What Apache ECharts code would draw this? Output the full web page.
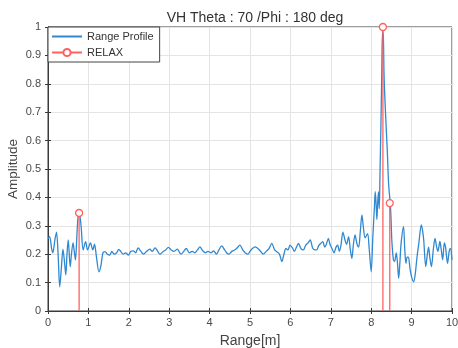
<!DOCTYPE html>
<html>
<head>
<meta charset="utf-8">
<script src="https://cdn.jsdelivr.net/npm/echarts@6/dist/echarts.min.js"></script>
<style>html,body{margin:0;padding:0;background:#fff}#c{width:458px;height:348px}</style>
</head>
<body>
<div id="c"></div>
<script>
var rangeX = [0.00,0.04,0.09,0.12,0.17,0.21,0.25,0.29,0.33,0.37,0.41,0.44,0.47,0.50,0.55,0.58,0.62,0.65,0.68,0.72,0.75,0.78,0.82,0.87,0.93,0.98,1.05,1.11,1.15,1.20,1.26,1.31,1.36,1.41,1.47,1.53,1.58,1.64,1.70,1.75,1.80,1.86,1.92,1.99,2.05,2.11,2.17,2.23,2.30,2.36,2.44,2.52,2.58,2.65,2.71,2.77,2.84,2.91,2.98,3.05,3.12,3.20,3.29,3.36,3.42,3.50,3.57,3.63,3.70,3.76,3.83,3.90,3.96,4.03,4.10,4.17,4.23,4.30,4.36,4.42,4.48,4.55,4.62,4.68,4.75,4.82,4.88,4.95,5.00,5.06,5.12,5.18,5.25,5.33,5.40,5.47,5.54,5.61,5.67,5.73,5.79,5.84,5.89,5.94,5.99,6.05,6.10,6.15,6.20,6.26,6.32,6.38,6.44,6.49,6.55,6.61,6.65,6.70,6.75,6.80,6.85,6.89,6.94,6.98,7.03,7.08,7.13,7.17,7.21,7.25,7.30,7.35,7.39,7.44,7.48,7.52,7.56,7.60,7.65,7.69,7.73,7.77,7.81,7.85,7.91,7.95,8.00,8.04,8.08,8.10,8.12,8.14,8.16,8.18,8.20,8.22,8.24,8.26,8.28,8.30,8.32,8.36,8.40,8.43,8.47,8.49,8.51,8.55,8.58,8.62,8.65,8.68,8.71,8.74,8.80,8.83,8.86,8.89,8.92,8.96,9.00,9.05,9.09,9.13,9.18,9.24,9.27,9.30,9.35,9.39,9.42,9.45,9.49,9.54,9.58,9.62,9.65,9.70,9.73,9.77,9.81,9.84,9.89,9.93,9.96,10.00];
var rangeAmp = [0.255,0.262,0.22,0.205,0.25,0.278,0.2,0.085,0.15,0.218,0.17,0.127,0.2,0.25,0.156,0.2,0.24,0.21,0.18,0.28,0.338,0.34,0.297,0.215,0.244,0.215,0.24,0.215,0.235,0.19,0.138,0.16,0.205,0.209,0.2,0.197,0.21,0.2,0.205,0.217,0.21,0.2,0.205,0.197,0.21,0.212,0.205,0.222,0.21,0.2,0.21,0.218,0.21,0.222,0.212,0.2,0.208,0.215,0.224,0.215,0.21,0.218,0.2,0.21,0.22,0.205,0.21,0.205,0.215,0.226,0.212,0.205,0.21,0.205,0.212,0.2,0.215,0.229,0.218,0.205,0.2,0.21,0.215,0.222,0.232,0.215,0.205,0.2,0.21,0.22,0.226,0.222,0.212,0.2,0.21,0.22,0.238,0.215,0.208,0.2,0.174,0.2,0.22,0.215,0.232,0.222,0.21,0.225,0.238,0.22,0.215,0.232,0.24,0.25,0.222,0.215,0.215,0.23,0.238,0.244,0.225,0.235,0.256,0.235,0.22,0.205,0.225,0.232,0.21,0.23,0.278,0.25,0.235,0.262,0.22,0.185,0.235,0.268,0.235,0.225,0.28,0.338,0.29,0.258,0.272,0.22,0.138,0.26,0.367,0.42,0.38,0.322,0.38,0.42,0.36,0.5,0.65,0.82,0.985,0.97,0.82,0.68,0.56,0.45,0.38,0.33,0.25,0.18,0.175,0.205,0.17,0.115,0.17,0.238,0.297,0.22,0.168,0.19,0.19,0.15,0.12,0.103,0.13,0.185,0.24,0.303,0.285,0.25,0.156,0.2,0.225,0.19,0.156,0.22,0.256,0.225,0.21,0.245,0.22,0.18,0.24,0.225,0.168,0.21,0.22,0.18];
var relaxX = [0.77, 8.29, 8.46];
var relaxAmp = [0.345, 1.0, 0.38];
var xTicks = [0,1,2,3,4,5,6,7,8,9,10];
var yTicks = [0,0.1,0.2,0.3,0.4,0.5,0.6,0.7,0.8,0.9,1];

var profileData = rangeX.map(function(x,i){return [x, rangeAmp[i]];});
var relaxData = [];
relaxX.forEach(function(x,i){
  relaxData.push({value:[x,0], symbol:'none'});
  relaxData.push({value:[x,relaxAmp[i]]});
  relaxData.push({value:[x,null], symbol:'none'});
});

var axisCol = '#3a3a3a', labCol = '#4a4a4a', font = 'Liberation Sans, Arial, sans-serif';
var chart = echarts.init(document.getElementById('c'), null, {renderer:'canvas'});
chart.setOption({
  animation:false,
  backgroundColor:'#fff',
  title:{text:'VH Theta : 70 /Phi : 180 deg', left:250, textAlign:'center', top:6,
    textStyle:{fontFamily:font, fontSize:14, fontWeight:'normal', color:'#333'}},
  legend:{orient:'vertical', left:48, top:27, itemWidth:30, itemHeight:9, itemGap:5,
    padding:[4,6,4,3], borderColor:'#444', borderWidth:1, backgroundColor:'#fff',
    textStyle:{fontFamily:font, fontSize:11, color:'#333'},
    data:[{name:'Range Profile', itemStyle:{opacity:0}},'RELAX']},
  grid:{left:48, right:6, top:27, bottom:37, show:true, borderColor:axisCol, borderWidth:1,
    containLabel:false, outerBoundsMode:'none'},
  xAxis:[{type:'value', min:0, max:10, interval:1, name:'Range[m]', nameLocation:'middle', nameGap:23,
    nameMoveOverlap:false,
    nameTextStyle:{fontFamily:font, fontSize:14, color:'#444'},
    axisLine:{show:true, lineStyle:{color:axisCol}},
    axisTick:{show:true, inside:true, length:3, lineStyle:{color:axisCol}},
    axisLabel:{fontFamily:font, fontSize:11, color:labCol, margin:6,
      formatter:function(v){return xTicks.indexOf(v)>=0?String(v):'';}},
    splitLine:{show:true, lineStyle:{color:'#e4e4e4', width:1}}},
   {type:'value', position:'top', min:0, max:10, interval:1,
    axisLine:{show:true, lineStyle:{color:axisCol}},
    axisTick:{show:true, inside:true, length:3, lineStyle:{color:axisCol}},
    axisLabel:{show:false}, splitLine:{show:false}}],
  yAxis:[{type:'value', min:0, max:1, interval:0.1, name:'Amplitude', nameLocation:'middle', nameGap:28,
    nameMoveOverlap:false,
    nameTextStyle:{fontFamily:font, fontSize:13.5, color:'#444'},
    axisLine:{show:true, lineStyle:{color:axisCol}},
    axisTick:{show:true, inside:true, length:3, lineStyle:{color:axisCol}},
    axisLabel:{fontFamily:font, fontSize:11, color:labCol, margin:7,
      formatter:function(v){var r=Math.round(v*10)/10; return yTicks.indexOf(r)>=0?String(r):'';}},
    splitLine:{show:true, lineStyle:{color:'#e4e4e4', width:1}}},
   {type:'value', position:'right', min:0, max:1, interval:0.1,
    axisLine:{show:true, lineStyle:{color:axisCol}},
    axisTick:{show:true, inside:true, length:3, lineStyle:{color:axisCol}},
    axisLabel:{show:false}, splitLine:{show:false}}],
  series:[
    {name:'Range Profile', type:'line', data:profileData, showSymbol:false, symbol:'none',
      smooth:0.3, lineStyle:{color:'#3088d0', width:1.3}, itemStyle:{color:'#3088d0'}},
    {name:'RELAX', type:'line', data:relaxData, connectNulls:false, symbol:'circle', symbolSize:7,
      showSymbol:true,
      lineStyle:{color:'#ff6060', width:1.3},
      itemStyle:{color:'#ffffff', borderColor:'#ff6060', borderWidth:1.3}}
  ]
});
</script>
</body>
</html>
